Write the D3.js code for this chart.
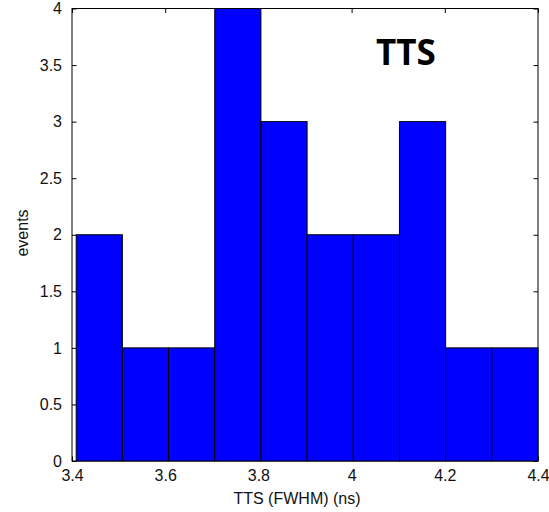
<!DOCTYPE html>
<html>
<head>
<meta charset="utf-8">
<script src="https://cdn.jsdelivr.net/npm/d3@7"></script>
<style>
  html, body { margin: 0; padding: 0; background: #fff; }
  svg { display: block; }
  .tick-label { font-family: "Liberation Sans", Arial, sans-serif; font-size: 16px; fill: #111; }
</style>
</head>
<body>
<svg id="chart" width="549" height="512"></svg>
<script>
// Histogram of TTS (FWHM) values: 10 equal bins spanning the data range
const binRange = [3.409, 4.4];          // smallest and largest measured value (ns)
const counts = [2, 1, 1, 4, 3, 2, 2, 3, 1, 1];
const xTicks = [3.4, 3.6, 3.8, 4.0, 4.2, 4.4];
const xTickLabels = ["3.4", "3.6", "3.8", "4", "4.2", "4.4"];
const yTicks = [0, 0.5, 1, 1.5, 2, 2.5, 3, 3.5, 4];
const yTickLabels = ["0", "0.5", "1", "1.5", "2", "2.5", "3", "3.5", "4"];
const xDomain = [3.4, 4.4];
const yDomain = [0, 4];

const svg = d3.select("#chart");
const plot = { left: 72, right: 538, top: 8.5, bottom: 461 };

const x = d3.scaleLinear().domain(xDomain).range([plot.left, plot.right]);
const y = d3.scaleLinear().domain(yDomain).range([plot.bottom, plot.top]);

const binWidth = (binRange[1] - binRange[0]) / counts.length;
const bins = counts.map((c, i) => ({
  x0: binRange[0] + i * binWidth,
  x1: binRange[0] + (i + 1) * binWidth,
  count: c
}));

const tickLen = 4.5;

// Axes box with inward ticks on all four sides
const axisBottom = d3.axisBottom(x).tickValues(xTicks).tickSizeInner(-tickLen).tickSizeOuter(0)
  .tickFormat((d, i) => xTickLabels[i]).tickPadding(9);
const axisTop = d3.axisTop(x).tickValues(xTicks).tickSizeInner(-tickLen).tickSizeOuter(0).tickFormat("");
const axisLeft = d3.axisLeft(y).tickValues(yTicks).tickSizeInner(-tickLen).tickSizeOuter(0)
  .tickFormat((d, i) => yTickLabels[i]).tickPadding(10);
const axisRight = d3.axisRight(y).tickValues(yTicks).tickSizeInner(-tickLen).tickSizeOuter(0).tickFormat("");

function styleAxis(g) {
  g.select(".domain").remove();
  g.selectAll(".tick line").attr("stroke", "#000").attr("stroke-width", 1);
  g.selectAll(".tick text").attr("class", "tick-label").attr("font-family", null).attr("font-size", null);
}

svg.append("g").attr("transform", `translate(0,${plot.bottom})`).call(axisBottom).call(styleAxis);
svg.append("g").attr("transform", `translate(0,${plot.top})`).call(axisTop).call(styleAxis);
svg.append("g").attr("transform", `translate(${plot.left},0)`).call(axisLeft).call(styleAxis);
svg.append("g").attr("transform", `translate(${plot.right},0)`).call(axisRight).call(styleAxis);

svg.append("rect")
  .attr("x", plot.left).attr("y", plot.top)
  .attr("width", plot.right - plot.left).attr("height", plot.bottom - plot.top)
  .attr("fill", "none").attr("stroke", "#000").attr("stroke-width", 1);

// Bars
svg.append("g")
  .selectAll("rect")
  .data(bins)
  .join("rect")
  .attr("x", d => x(d.x0))
  .attr("y", d => y(d.count))
  .attr("width", d => x(d.x1) - x(d.x0))
  .attr("height", d => y(0) - y(d.count))
  .attr("fill", "#0000ff")
  .attr("stroke", "#000")
  .attr("stroke-width", 1);

// Axis titles
svg.append("text")
  .attr("class", "tick-label")
  .attr("x", 297).attr("y", 504)
  .attr("text-anchor", "middle")
  .text("TTS (FWHM) (ns)");

svg.append("text")
  .attr("class", "tick-label")
  .attr("transform", `translate(28,233) rotate(-90)`)
  .attr("text-anchor", "middle")
  .text("events");

// Panel label
svg.append("text")
  .attr("x", 376).attr("y", 65)
  .attr("font-family", "'Open Sans', sans-serif")
  .attr("font-weight", 700)
  .attr("font-size", 35)
  .attr("fill", "#000")
  .text("TTS");
</script>
</body>
</html>
